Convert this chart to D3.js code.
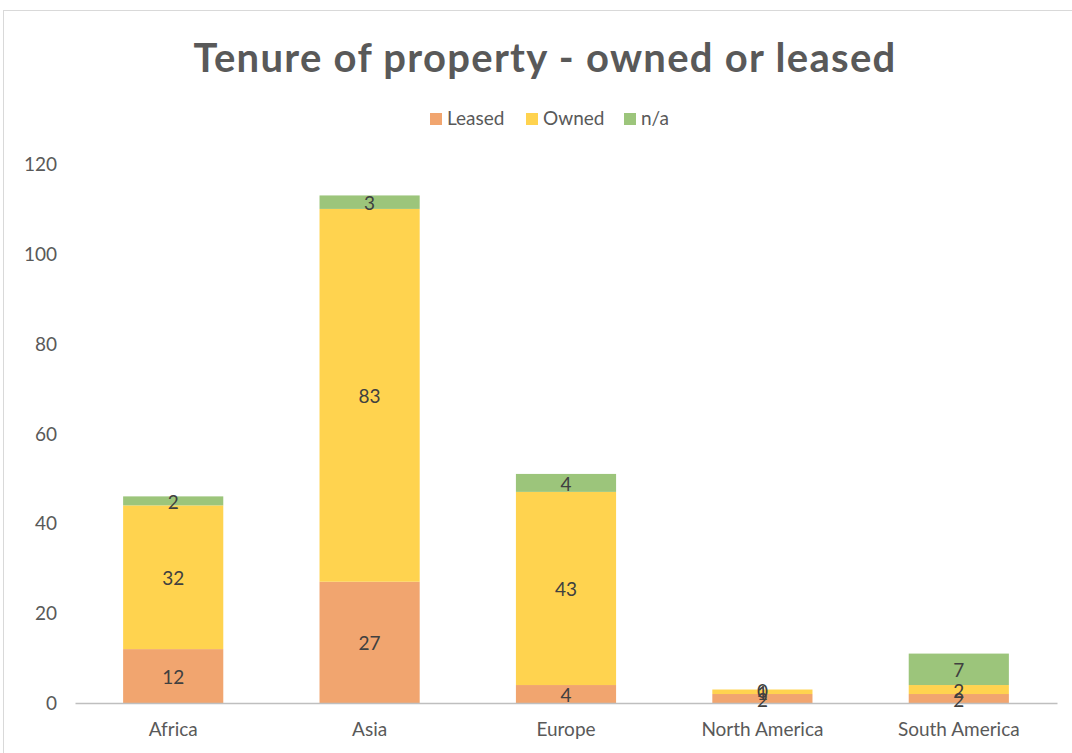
<!DOCTYPE html>
<html lang="en">
<head>
    <meta charset="utf-8">
    <title>Tenure of property</title>
    <script src="https://cdn.jsdelivr.net/npm/d3@7"></script>
    <style>
        body { margin: 0; background: #fff; }
        text { font-family: Lato, "Open Sans", sans-serif; }
    </style>
</head>
<body>
    <div id="chart"></div>
    <script>
        var regions = ['Africa', 'Asia', 'Europe', 'North America', 'South America'];
        var leased = [12, 27, 4, 2, 2];
        var owned = [32, 83, 43, 1, 2];
        var na = [2, 3, 4, 0, 7];
        var seriesNames = ['Leased', 'Owned', 'n/a'];
        var colors = ['#F1A56F', '#FFD34F', '#9CC57B'];
        var yTicks = [0, 20, 40, 60, 80, 100, 120];

        var width = 1072, height = 753;
        var svg = d3.select('#chart').append('svg')
            .attr('width', width).attr('height', height);

        // chart frame
        svg.append('rect')
            .attr('x', 3.5).attr('y', 10.5)
            .attr('width', width + 10).attr('height', height + 10)
            .attr('fill', '#fff').attr('stroke', '#d9d9d9');

        var rows = regions.map(function (r, i) {
            return { region: r, 'Leased': leased[i], 'Owned': owned[i], 'n/a': na[i] };
        });
        var stacked = d3.stack().keys(seriesNames)(rows);

        var x = d3.scaleBand().domain(regions).range([75, 1057]).paddingInner(0.49).paddingOuter(0.245);
        var y = d3.scaleLinear().domain([0, 120]).range([703, 164]);

        svg.append('text')
            .attr('x', 545).attr('y', 72)
            .attr('text-anchor', 'middle')
            .attr('font-size', 40).attr('font-weight', 'bold')
            .attr('letter-spacing', 1.3)
            .attr('fill', '#595959')
            .text('Tenure of property - owned or leased');

        // legend
        var legendX = [430, 526, 624];
        var legend = svg.append('g');
        seriesNames.forEach(function (s, i) {
            legend.append('rect')
                .attr('x', legendX[i]).attr('y', 113)
                .attr('width', 12).attr('height', 12)
                .attr('fill', colors[i]);
            legend.append('text')
                .attr('x', legendX[i] + 17).attr('y', 125)
                .attr('font-size', 19).attr('fill', '#595959')
                .text(s);
        });

        // y axis labels
        svg.append('g').selectAll('text')
            .data(yTicks).enter().append('text')
            .attr('x', 57).attr('y', function (d) { return y(d) + 7; })
            .attr('text-anchor', 'end')
            .attr('font-size', 19).attr('fill', '#595959')
            .text(function (d) { return d; });

        // bars
        var layers = svg.append('g').selectAll('g')
            .data(stacked).enter().append('g')
            .attr('fill', function (d, i) { return colors[i]; });
        layers.selectAll('rect')
            .data(function (d) { return d; }).enter().append('rect')
            .attr('x', function (d) { return x(d.data.region); })
            .attr('y', function (d) { return y(d[1]); })
            .attr('width', x.bandwidth())
            .attr('height', function (d) { return y(d[0]) - y(d[1]); });

        // x axis
        var xAxis = svg.append('g')
            .attr('transform', 'translate(0,703)')
            .call(d3.axisBottom(x).tickSize(0).tickPadding(20));
        xAxis.select('.domain').attr('stroke', '#bfbfbf').attr('stroke-width', 1.5);
        xAxis.selectAll('text')
            .attr('font-size', 19).attr('fill', '#595959')
            .style('font-family', 'Lato, "Open Sans", sans-serif');

        // data labels
        stacked.forEach(function (layer) {
            svg.append('g').selectAll('text')
                .data(layer).enter().append('text')
                .attr('x', function (d) { return x(d.data.region) + x.bandwidth() / 2; })
                .attr('y', function (d) { return (y(d[0]) + y(d[1])) / 2 + 8; })
                .attr('text-anchor', 'middle')
                .attr('font-size', 19).attr('fill', '#404040')
                .text(function (d) { return d[1] - d[0]; });
        });
    </script>
</body>
</html>
